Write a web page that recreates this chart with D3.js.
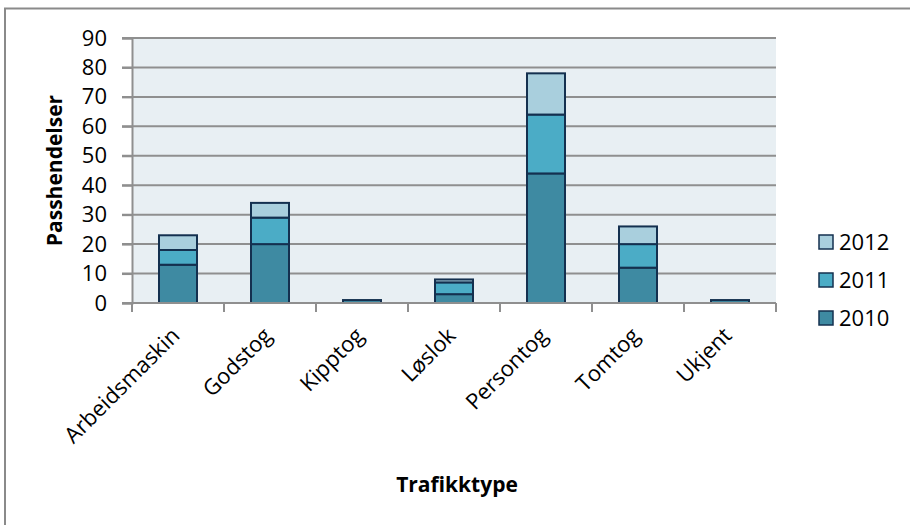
<!DOCTYPE html>
<html>
<head>
<meta charset="utf-8">
<script src="https://cdn.jsdelivr.net/npm/d3@7"></script>
<style>
  html, body { margin: 0; padding: 0; background: #fff; }
  svg { display: block; font-family: "Open Sans", "Noto Sans", sans-serif; }
</style>
</head>
<body>
<svg id="chart" width="910" height="525"></svg>
<script>
// Passhendelser per trafikktype, stacked by year
const categories = ["Arbeidsmaskin", "Godstog", "Kipptog", "Løslok", "Persontog", "Tomtog", "Ukjent"];
const years = ["2010", "2011", "2012"];
const values2010 = [13, 20, 1, 3, 44, 12, 1];
const values2011 = [5, 9, 0, 4, 20, 8, 0];
const values2012 = [5, 5, 0, 1, 14, 6, 0];
const yTicks = [0, 10, 20, 30, 40, 50, 60, 70, 80, 90];
const yearColors = ["#3e8aa2", "#4bacc6", "#a9cfdd"];

const rows = categories.map((c, i) => ({
  cat: c, "2010": values2010[i], "2011": values2011[i], "2012": values2012[i]
}));
const stacked = d3.stack().keys(years)(rows);

const svg = d3.select("#chart");
const plot = { left: 132, right: 776, top: 38, bottom: 303 };

// outer chart frame (runs off the right and bottom edges)
svg.append("rect")
  .attr("x", 5).attr("y", 8.5).attr("width", 960).attr("height", 560)
  .attr("fill", "none").attr("stroke", "#8a8a8a").attr("stroke-width", 2);

const x = d3.scaleBand().domain(categories)
  .range([plot.left, plot.right])
  .paddingInner(0.587).paddingOuter(0.2935);
const y = d3.scaleLinear().domain([0, 90]).range([plot.bottom, plot.top]);

// plot background
svg.append("rect")
  .attr("x", plot.left).attr("y", plot.top)
  .attr("width", plot.right - plot.left).attr("height", plot.bottom - plot.top)
  .attr("fill", "#e8eff3");

// horizontal gridlines with outer ticks
svg.append("g").selectAll("line").data(yTicks.filter(t => t > 0)).join("line")
  .attr("x1", plot.left - 10).attr("x2", plot.right)
  .attr("y1", d => y(d)).attr("y2", d => y(d))
  .attr("stroke", "#8f8f8f").attr("stroke-width", 2);

// stacked bars
svg.append("g").selectAll("g").data(stacked).join("g")
  .attr("fill", (d, i) => yearColors[i])
  .selectAll("rect").data(d => d.filter(s => s[1] - s[0] > 0)).join("rect")
  .attr("x", d => x(d.data.cat))
  .attr("y", d => y(d[1]))
  .attr("width", x.bandwidth())
  .attr("height", d => y(d[0]) - y(d[1]))
  .attr("stroke", "#14304f").attr("stroke-width", 2);

// y axis
const yAxis = svg.append("g")
  .attr("transform", `translate(${plot.left},0)`)
  .call(d3.axisLeft(y).tickValues(yTicks).tickSize(10).tickPadding(15));
yAxis.select(".domain").attr("stroke", "#8f8f8f").attr("stroke-width", 2);
yAxis.selectAll(".tick line").attr("stroke", "#8f8f8f").attr("stroke-width", 2);
yAxis.selectAll(".tick text").attr("font-size", 22).attr("fill", "#000")
  .attr("font-family", "'Open Sans', sans-serif");

// x axis line and category boundary ticks
svg.append("line")
  .attr("x1", plot.left - 10).attr("x2", plot.right)
  .attr("y1", plot.bottom).attr("y2", plot.bottom)
  .attr("stroke", "#8f8f8f").attr("stroke-width", 2);
const step = x.step();
const bounds = d3.range(categories.length + 1).map(i => plot.left + i * step);
svg.append("g").selectAll("line").data(bounds).join("line")
  .attr("x1", d => d).attr("x2", d => d)
  .attr("y1", plot.bottom).attr("y2", plot.bottom + 9)
  .attr("stroke", "#8f8f8f").attr("stroke-width", 2);

// rotated category labels
svg.append("g").selectAll("text").data(categories).join("text")
  .attr("transform", d => `translate(${x(d) + x.bandwidth() / 2 + 3},${plot.bottom + 34}) rotate(-45)`)
  .attr("text-anchor", "end")
  .attr("font-size", 22).attr("fill", "#000")
  .text(d => d);

// axis titles
svg.append("text")
  .attr("transform", `translate(62,${(plot.top + plot.bottom) / 2}) rotate(-90)`)
  .attr("text-anchor", "middle")
  .attr("font-size", 21).attr("font-weight", "bold").attr("fill", "#000")
  .text("Passhendelser");
svg.append("text")
  .attr("x", 457).attr("y", 492)
  .attr("text-anchor", "middle")
  .attr("font-size", 21).attr("font-weight", "bold").attr("fill", "#000")
  .text("Trafikktype");

// legend, newest year on top
const legendYears = years.slice().reverse();
const legend = svg.append("g").selectAll("g").data(legendYears).join("g")
  .attr("transform", (d, i) => `translate(819,${242 + i * 38})`);
legend.append("rect")
  .attr("x", 0).attr("y", -7).attr("width", 14).attr("height", 14)
  .attr("fill", d => yearColors[years.indexOf(d)])
  .attr("stroke", "#14304f").attr("stroke-width", 1.5);
legend.append("text")
  .attr("x", 20).attr("y", 0).attr("dy", "0.35em")
  .attr("font-size", 22).attr("fill", "#000")
  .text(d => d);
</script>
</body>
</html>
